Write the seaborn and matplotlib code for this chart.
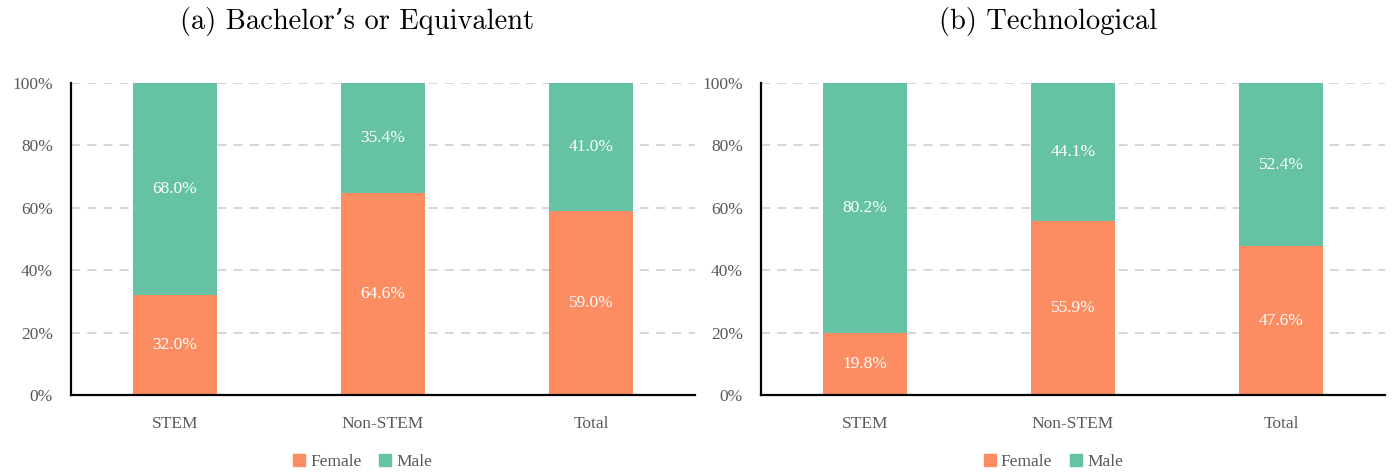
import pandas as pd
import matplotlib
matplotlib.use('Agg')
import matplotlib.pyplot as plt
from matplotlib.patches import Patch
import seaborn as sns

# Data
categories = ['STEM', 'Non-STEM', 'Total']
bachelor_female = [32.0, 64.6, 59.0]
bachelor_male = [68.0, 35.4, 41.0]
tech_female = [19.8, 55.9, 47.6]
tech_male = [80.2, 44.1, 52.4]
panel_titles = ["(a) Bachelor\u2019s or Equivalent", "(b) Technological"]
yticks = [0, 20, 40, 60, 80, 100]

sns.set_theme(style='white')
plt.rcParams['font.family'] = ['Liberation Serif', 'DejaVu Serif']

FEMALE = '#fc8d62'
MALE = '#66c2a5'
GRAY = '#595959'

fig = plt.figure(figsize=(13.95, 4.74), dpi=100)
axes = [fig.add_axes([0.0509, 0.1667, 0.4473, 0.6582]),
        fig.add_axes([0.5455, 0.1667, 0.4473, 0.6582])]

panels = [(bachelor_female, bachelor_male), (tech_female, tech_male)]
title_x = [0.256, 0.751]

for ax, (female, male), title, tx in zip(axes, panels, panel_titles, title_x):
    df = pd.DataFrame({'category': categories, 'Female': female, 'Male': male})
    df['top'] = df['Female'] + df['Male']
    sns.barplot(data=df, x='category', y='top', color=MALE, width=0.4,
                saturation=1, linewidth=0, ax=ax, zorder=3)
    sns.barplot(data=df, x='category', y='Female', color=FEMALE, width=0.4,
                saturation=1, linewidth=0, ax=ax, zorder=4)
    ax.set_xlim(-0.5, 2.5)
    ax.set_ylim(0, 100)
    ax.set_yticks(yticks)
    ax.set_yticklabels([f'{t}%' for t in yticks])
    ax.set_xlabel('')
    ax.set_ylabel('')
    ax.tick_params(axis='both', length=0, labelsize=12.5, labelcolor=GRAY)
    ax.tick_params(axis='x', pad=15)
    ax.tick_params(axis='y', pad=13)
    ax.yaxis.grid(True, color='#d3d3d3', linestyle=(0, (5, 4)), linewidth=1.3, zorder=0)
    ax.set_axisbelow(True)
    for side in ['top', 'right']:
        ax.spines[side].set_visible(False)
    for side in ['left', 'bottom']:
        ax.spines[side].set_color('black')
        ax.spines[side].set_linewidth(1.6)
        ax.spines[side].set_zorder(5)

    # value labels
    for i, (f, m) in enumerate(zip(female, male)):
        ax.text(i, f / 2, f'{f:.1f}%', ha='center', va='center', color='white',
                fontsize=12.5, zorder=6)
        ax.text(i, f + m / 2, f'{m:.1f}%', ha='center', va='center', color='white',
                fontsize=12.5, zorder=6)

    handles = [Patch(color=FEMALE, label='Female'), Patch(color=MALE, label='Male')]
    fig.legend(handles=handles, loc='center', bbox_to_anchor=(tx + 0.004, 0.025), ncol=2,
               frameon=False, fontsize=12.5, labelcolor=GRAY, handlelength=0.7,
               handleheight=0.7, handletextpad=0.3, columnspacing=1.0)

    fig.text(tx, 0.955, title, ha='center', va='center', fontsize=20.5,
             color='black', family=['cmr10', 'DejaVu Serif'])

plt.savefig('out.png', dpi=100)
plt.close()
